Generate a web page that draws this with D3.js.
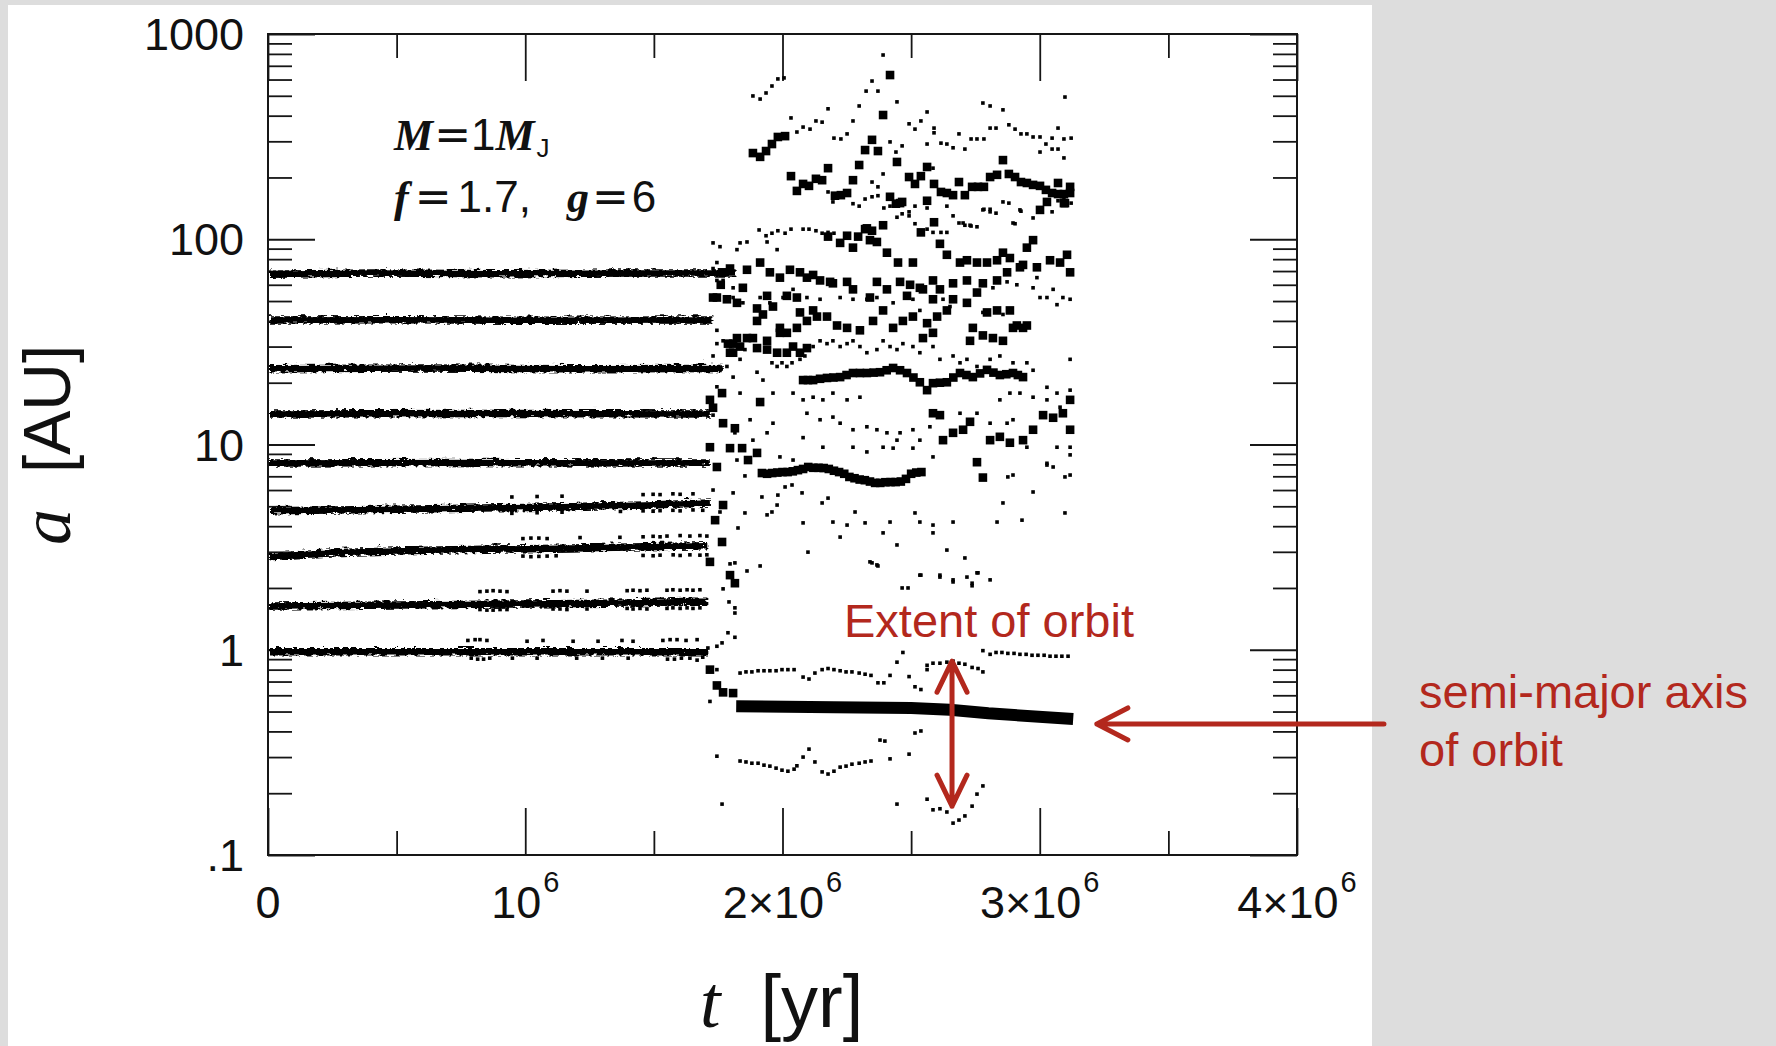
<!DOCTYPE html>
<html>
<head>
<meta charset="utf-8">
<script src="https://cdn.jsdelivr.net/npm/d3@7"></script>
<style>
html, body { margin: 0; padding: 0; background: #dddddd; }
svg { display: block; }
</style>
</head>
<body>
<div id="chart"></div>
<script>
// Semi-major axis a [AU] vs time t (t in units of 1e6 yr)

// planets before the instability, drawn as thick jittery lines
const track70 = [[0, 69], [0.4, 70], [0.9, 69.5], [1.4, 70], [1.81, 70]];
const track41 = [[0, 41.3], [0.5, 41.5], [1.0, 41.2], [1.72, 41.3]];
const track24 = [[0, 23.9], [0.6, 24.1], [1.2, 23.9], [1.76, 24.0]];
const track14 = [[0, 14.4], [0.8, 14.5], [1.71, 14.4]];
const track8 = [[0, 8.3], [0.8, 8.35], [1.71, 8.3]];
const track5 = [[0, 4.87], [0.5, 4.95], [1.0, 5.05], [1.5, 5.2], [1.71, 5.3]];
const track3 = [[0, 2.9], [0.1, 2.97], [0.3, 3.05], [0.6, 3.12], [1.0, 3.18], [1.4, 3.24], [1.7, 3.28]];
const track17 = [[0, 1.67], [0.5, 1.69], [1.0, 1.71], [1.4, 1.73], [1.64, 1.76], [1.7, 1.76]];
const track1 = [[0, 1.0], [0.8, 1.0], [1.7, 1.0]];
const preTracks = [track70, track41, track24, track14, track8, track5, track3, track17, track1];

// the surviving inner planet after the instability
const innerTrack = [[1.82, 0.53], [2.2, 0.525], [2.5, 0.52], [2.65, 0.51], [2.8, 0.49], [3.13, 0.46]];

// peri/apocentre dots before the instability
const preDots = [
  [0.777, 1.11], [0.805, 1.12], [0.824, 1.12], [0.851, 1.11], [1.007, 1.10], [1.069, 1.11], [1.186, 1.10], [1.283, 1.10],
  [1.376, 1.11], [1.419, 1.10], [1.535, 1.11], [1.563, 1.12], [1.590, 1.12], [1.625, 1.11], [1.668, 1.12],
  [0.790, 0.91], [0.815, 0.90], [0.838, 0.90], [0.862, 0.91], [0.95, 0.91], [1.046, 0.91], [1.20, 0.91], [1.30, 0.91],
  [1.40, 0.91], [1.553, 0.90], [1.580, 0.90], [1.607, 0.91], [1.640, 0.91], [1.690, 0.92],
  [0.824, 1.92], [0.851, 1.93], [0.875, 1.94], [0.902, 1.93], [0.929, 1.92], [1.108, 1.93], [1.135, 1.94], [1.162, 1.93],
  [1.240, 1.93], [1.396, 1.94], [1.419, 1.95], [1.446, 1.94], [1.473, 1.95], [1.551, 1.95], [1.574, 1.96], [1.602, 1.95],
  [1.629, 1.96], [1.652, 1.95], [1.679, 1.96],
  [0.824, 1.57], [0.851, 1.56], [0.875, 1.56], [0.902, 1.57], [0.929, 1.57], [1.108, 1.58], [1.135, 1.58], [1.162, 1.57],
  [1.240, 1.58], [1.396, 1.59], [1.419, 1.58], [1.446, 1.59], [1.473, 1.58], [1.551, 1.59], [1.574, 1.60], [1.602, 1.59],
  [1.629, 1.60], [1.652, 1.59], [1.679, 1.60],
  [0.991, 3.48], [1.022, 3.50], [1.053, 3.50], [1.085, 3.48], [1.213, 3.52], [1.368, 3.53], [1.458, 3.55], [1.497, 3.57],
  [1.524, 3.55], [1.551, 3.58], [1.602, 3.60], [1.640, 3.58], [1.679, 3.60], [1.706, 3.58],
  [0.991, 2.86], [1.022, 2.84], [1.053, 2.85], [1.085, 2.86], [1.12, 2.87], [1.458, 2.88], [1.497, 2.87], [1.524, 2.89],
  [1.575, 2.90], [1.602, 2.88], [1.640, 2.90], [1.679, 2.89], [1.706, 2.90],
  [0.948, 5.55], [1.046, 5.58], [1.143, 5.60], [1.458, 5.70], [1.497, 5.72], [1.524, 5.70], [1.574, 5.75], [1.602, 5.72], [1.652, 5.75],
  [0.948, 4.62], [1.046, 4.65], [1.143, 4.68], [1.37, 4.72], [1.458, 4.75], [1.497, 4.73], [1.524, 4.76], [1.574, 4.78],
  [1.602, 4.75], [1.652, 4.80], [1.69, 4.78]
];

// semi-major axes after the instability (large squares)
const sqHigh = [
  [1.885, 263], [1.913, 252], [1.936, 269], [1.959, 291], [1.982, 315], [2.010, 318], [2.418, 631], [2.391, 403],
  [2.348, 305], [2.321, 272], [2.371, 269], [2.445, 238], [2.298, 230],
  [2.177, 222], [2.033, 203], [2.056, 172], [2.080, 186], [2.103, 182], [2.130, 197], [2.154, 194], [2.274, 194],
  [2.204, 163], [2.227, 164], [2.251, 168], [2.418, 161], [2.441, 149], [2.465, 152], [2.492, 201], [2.515, 186],
  [2.538, 203], [2.562, 225], [2.562, 154], [2.589, 186], [2.616, 170], [2.639, 168], [2.663, 164], [2.686, 190],
  [2.709, 164], [2.737, 180], [2.760, 180], [2.783, 180], [2.807, 201], [2.834, 206], [2.857, 243], [2.880, 208],
  [2.904, 201], [2.927, 190], [2.950, 188], [2.974, 184], [3.001, 182], [3.024, 174], [3.048, 168], [3.071, 188],
  [3.071, 166], [3.094, 166], [3.118, 180], [3.118, 168], [3.094, 150], [3.001, 139], [2.457, 150], [3.028, 152], [3.098, 150]
];
const sqNear100 = [
  [2.589, 121], [2.538, 108], [2.391, 117], [2.321, 112], [2.348, 110], [2.328, 113], [2.251, 104], [2.294, 103],
  [2.177, 103], [2.224, 96], [2.340, 99], [2.367, 97], [2.974, 99], [2.612, 95], [2.950, 91], [2.274, 91], [2.406, 86],
  [2.639, 84], [2.857, 86], [2.795, 77], [2.834, 79], [2.884, 81], [3.040, 79], [3.106, 84], [2.690, 77], [2.717, 79],
  [2.756, 77], [2.449, 77], [2.507, 77], [2.935, 75], [2.989, 73], [3.079, 77], [1.913, 77],
  [1.862, 71], [1.951, 69], [1.990, 65], [2.029, 71], [2.068, 69], [2.119, 67], [2.185, 62], [2.251, 62], [2.274, 57],
  [2.367, 62], [2.406, 57], [2.457, 62], [2.496, 60], [2.534, 58], [2.585, 63], [2.612, 57], [2.663, 61], [2.717, 63],
  [2.779, 61], [2.834, 63], [2.873, 69], [2.923, 73], [3.118, 69], [2.196, 61], [2.146, 63], [2.095, 65],
  [1.765, 69], [1.796, 72]
];
const sqNear40 = [
  [1.730, 52], [1.745, 52], [1.784, 51], [1.823, 49], [1.846, 58], [1.901, 46], [1.940, 53], [1.963, 47], [2.017, 53],
  [2.056, 52], [2.068, 44], [2.119, 45], [2.173, 42], [2.212, 38], [2.251, 37], [2.301, 36], [2.352, 40], [2.391, 45],
  [2.430, 37], [2.468, 40], [2.507, 42], [2.562, 39], [2.601, 42], [2.639, 45], [2.585, 51], [2.546, 57], [2.484, 53],
  [2.340, 52], [1.823, 33], [1.862, 33], [1.885, 33], [1.940, 32], [1.990, 35], [2.017, 35], [2.056, 37], [2.095, 40],
  [2.134, 42], [1.940, 29], [1.979, 28], [2.017, 28], [2.041, 30], [1.808, 31], [1.796, 28], [2.663, 51], [2.717, 49],
  [2.756, 55], [2.795, 44], [2.834, 45], [2.884, 45], [2.911, 38], [2.950, 38], [2.740, 37], [2.779, 34], [2.818, 33],
  [2.857, 32], [2.896, 37], [2.935, 37], [2.729, 32], [2.585, 35], [2.546, 33], [1.76, 60],
  [1.901, 40], [1.924, 43], [1.990, 37], [1.788, 31], [1.808, 28], [1.835, 30], [1.901, 29.5], [2.068, 28], [2.095, 29.5]
];
const sqNear20 = [
  [2.080, 20.6], [2.099, 20.6], [2.119, 20.6], [2.146, 20.9], [2.173, 21.1], [2.198, 21.2], [2.224, 21.3], [2.249, 21.8],
  [2.274, 22.3], [2.301, 22.3], [2.328, 22.3], [2.354, 22.4], [2.379, 22.5], [2.405, 23.0], [2.430, 23.6], [2.457, 23.0],
  [2.484, 22.3], [2.509, 21.2], [2.534, 20.1], [2.562, 18.4], [2.585, 19.9], [2.612, 20.0], [2.639, 20.1], [2.664, 21.2],
  [2.690, 22.3], [2.715, 21.8], [2.740, 21.3], [2.768, 22.2], [2.795, 23.1], [2.820, 22.4], [2.845, 21.8], [2.870, 22.0],
  [2.896, 22.3], [2.915, 21.8], [2.935, 21.3]
];
const sqNear12 = [
  [2.585, 14.2], [2.612, 13.9], [2.624, 10.5], [2.663, 11.4], [2.702, 11.8], [2.729, 12.9], [2.807, 10.5], [2.845, 10.9],
  [2.884, 10.2], [2.935, 10.5], [2.974, 11.8], [3.013, 13.9], [3.052, 13.5], [3.090, 14.2], [3.118, 11.8], [3.118, 16.5]
];
const sqNear7 = [
  [1.92, 7.26], [1.94, 7.2], [1.96, 7.26], [1.98, 7.3], [2.00, 7.34], [2.02, 7.34], [2.04, 7.4], [2.06, 7.5], [2.08, 7.6],
  [2.10, 7.77], [2.12, 7.7], [2.14, 7.7], [2.16, 7.68], [2.18, 7.6], [2.20, 7.45], [2.22, 7.34], [2.24, 7.2], [2.26, 6.95],
  [2.28, 6.85], [2.30, 6.75], [2.32, 6.7], [2.34, 6.6], [2.36, 6.5], [2.38, 6.5], [2.40, 6.55], [2.42, 6.56], [2.44, 6.56],
  [2.46, 6.6], [2.48, 6.8], [2.50, 7.2], [2.52, 7.3], [2.54, 7.34]
];
const sqScatter = [
  [1.718, 16.5], [1.730, 15.1], [1.765, 17.8], [1.769, 12.7], [1.815, 12.0], [1.913, 16.1], [1.718, 9.7], [1.745, 7.77],
  [1.796, 9.6], [1.843, 9.6], [1.866, 8.4], [1.901, 9.1], [1.769, 5.07], [1.738, 4.28], [1.765, 3.35], [1.718, 2.68],
  [1.796, 2.31], [1.815, 2.11], [2.756, 8.2], [2.779, 6.9], [1.718, 0.80], [1.745, 0.67], [1.769, 0.62], [1.808, 0.615]
];

// peri/apocentre dots after the instability
const dotsHigh = [
  [1.885, 499], [1.913, 482], [1.936, 516], [1.959, 558], [1.982, 604], [2.006, 611], [2.391, 790], [2.348, 590],
  [2.325, 527], [2.371, 527], [2.445, 467], [2.298, 446], [2.274, 377], [2.177, 432], [2.130, 377], [2.154, 372],
  [2.107, 344], [2.080, 352], [2.056, 333], [2.033, 390], [2.200, 311], [2.227, 308], [2.251, 326],
  [2.492, 365], [2.515, 344], [2.538, 377], [2.562, 417], [2.589, 348], [2.589, 330], [2.562, 291], [2.616, 294],
  [2.639, 291], [2.663, 279], [2.686, 326], [2.709, 275], [2.733, 308], [2.756, 308], [2.783, 308], [2.779, 461],
  [2.807, 446], [2.857, 427], [2.830, 348], [2.807, 348], [2.880, 361], [2.904, 344], [2.927, 326], [2.950, 326],
  [2.974, 315], [3.001, 315], [3.024, 291], [3.048, 311], [3.071, 348], [3.098, 493], [3.122, 311], [3.094, 308],
  [3.001, 266], [3.048, 275], [3.071, 275], [3.094, 249], [2.418, 298], [2.465, 285], [2.441, 266],
  [3.122, 150], [3.094, 159], [3.071, 154], [2.857, 152], [2.880, 150], [2.783, 140], [2.807, 140], [2.830, 134],
  [2.927, 137], [2.974, 127], [3.048, 136], [2.904, 119], [2.585, 222], [2.391, 208], [2.348, 190], [2.371, 180],
  [2.196, 152], [2.177, 170], [2.274, 149], [2.298, 145], [2.321, 157], [2.348, 161], [2.371, 163], [2.394, 142],
  [2.418, 145], [2.445, 128], [2.465, 133], [2.492, 136], [2.492, 130], [2.515, 145], [2.562, 142], [2.639, 145],
  [2.663, 130], [2.686, 120], [2.709, 117], [2.733, 116], [2.756, 115], [2.515, 119], [2.562, 112], [2.616, 108],
  [2.639, 108], [2.585, 108], [1.909, 111], [1.936, 104], [1.959, 107], [1.982, 110], [2.010, 107], [2.033, 112],
  [2.080, 112], [2.103, 112], [2.130, 110], [2.154, 107], [2.177, 108], [2.200, 107], [2.779, 139], [2.807, 136],
  [2.896, 120], [2.702, 120], [2.729, 117], [2.923, 139]
];
const dotsMid = [
  [1.835, 96], [1.862, 97], [1.940, 97], [1.979, 89], [1.823, 89], [1.745, 77], [1.745, 63], [1.769, 63], [1.808, 58],
  [2.989, 65], [2.873, 62], [2.911, 60], [2.818, 58], [2.974, 58], [3.001, 52], [3.028, 52], [3.052, 57], [3.090, 52],
  [3.118, 51], [3.067, 48], [2.857, 43], [2.779, 44], [2.624, 51], [2.651, 47], [2.534, 45], [2.507, 51], [2.430, 49],
  [2.367, 52], [2.328, 51], [2.274, 51], [2.224, 52], [2.146, 51], [2.095, 52], [2.041, 57], [2.002, 52], [1.951, 49],
  [1.913, 52], [1.846, 49], [1.808, 52],
  [1.745, 31], [1.959, 25], [1.979, 24], [1.998, 25], [2.017, 24], [2.037, 25], [2.068, 26], [2.087, 27], [2.119, 30],
  [2.146, 32], [2.173, 31], [2.196, 32], [2.224, 30], [2.251, 31], [2.274, 32], [2.301, 30], [2.328, 28], [2.367, 29],
  [2.391, 32], [2.418, 30], [2.445, 29], [2.468, 31], [2.507, 30], [2.534, 28], [2.585, 30], [2.612, 26], [2.663, 27],
  [2.690, 25], [2.717, 26], [2.756, 24], [2.807, 26], [2.845, 27], [2.896, 25], [2.950, 25], [2.974, 23], [3.028, 19],
  [3.067, 17.8], [3.118, 18.4], [3.118, 26],
  [1.835, 17.8], [1.963, 17.8], [2.041, 17.8], [2.080, 16.5], [2.119, 17.0], [2.157, 16.5], [2.196, 17.8], [2.251, 16.5],
  [2.301, 17.0], [2.095, 14.2], [2.146, 13.2], [2.196, 13.6], [2.224, 12.7], [2.274, 11.8], [2.328, 12.2], [2.367, 11.8],
  [2.406, 11.4], [2.445, 10.5], [2.457, 11.4], [2.507, 11.8], [2.534, 10.5], [2.573, 12.2], [2.690, 14.2], [2.756, 14.2],
  [2.807, 12.7], [2.873, 12.7], [2.896, 13.2], [2.974, 17.0], [2.884, 17.8], [2.845, 16.5], [2.923, 17.8], [3.028, 16.5],
  [3.079, 15.2],
  [1.730, 96], [1.757, 92], [1.730, 72], [1.784, 69], [1.745, 36], [1.769, 32], [1.730, 27], [1.784, 24], [1.808, 21.3],
  [1.745, 19.1], [1.835, 26], [1.854, 29], [1.901, 22.5], [1.924, 20.6], [1.730, 13.9], [1.815, 11.4], [1.874, 13.2],
  [1.963, 12.7], [1.885, 10.5], [1.940, 11.4], [2.080, 10.8]
];
const dotsLow = [
  [2.274, 9.7], [2.328, 9.2], [2.391, 9.7], [2.430, 9.6], [2.507, 9.6], [2.585, 8.7], [2.157, 9.7], [1.990, 8.7],
  [2.041, 8.4], [2.950, 9.7], [3.028, 8.1], [3.067, 9.7], [3.118, 9.7],
  [1.823, 8.4], [1.854, 7.03], [1.808, 5.81], [1.730, 6.0], [1.757, 4.69], [1.827, 3.92], [1.854, 4.64], [1.920, 5.55],
  [1.940, 4.54], [1.959, 4.69], [1.979, 5.07], [1.982, 5.67], [2.010, 6.21], [2.037, 6.35], [2.076, 5.81], [2.080, 4.15],
  [2.099, 2.99], [2.154, 5.19], [2.177, 5.48], [2.196, 4.19], [2.224, 3.54], [2.251, 4.05], [2.282, 4.69], [2.321, 4.15],
  [2.340, 2.68], [2.367, 2.59], [2.391, 3.71], [2.418, 4.19], [2.445, 3.24], [2.515, 4.64], [2.534, 4.19], [2.585, 4.05],
  [2.585, 3.71], [2.612, 2.26], [2.639, 3.06], [2.663, 4.19], [2.709, 2.80], [2.760, 2.37], [2.807, 2.19], [2.834, 4.19],
  [2.857, 5.19], [2.931, 4.28], [2.974, 5.87], [3.028, 7.94], [3.052, 7.77], [3.098, 6.95], [3.118, 7.10], [3.098, 4.64],
  [3.118, 8.9], [2.896, 7.10], [2.876, 6.95], [2.717, 2.26], [2.663, 2.14], [2.534, 2.31], [2.465, 2.00], [2.488, 2.00],
  [2.348, 2.65], [2.371, 2.56], [1.796, 2.62], [1.815, 2.65], [1.862, 2.42], [1.913, 2.56], [2.538, 2.31], [2.612, 2.31],
  [2.663, 2.19], [2.737, 2.11], [2.737, 2.05], [2.756, 2.37],
  [1.769, 1.98], [1.792, 1.71], [1.815, 1.60], [1.815, 1.51], [1.788, 1.21], [1.815, 1.15], [1.765, 1.08], [1.745, 1.04], [1.710, 1.02]
];
const dotsApo = [
  [1.668, 0.89], [1.745, 0.80], [1.835, 0.77], [1.858, 0.78], [1.881, 0.78], [1.905, 0.79], [1.928, 0.79], [1.951, 0.79],
  [1.975, 0.79], [1.998, 0.80], [2.021, 0.80], [2.045, 0.80], [2.080, 0.736], [2.103, 0.72], [2.126, 0.77], [2.154, 0.80],
  [2.177, 0.81], [2.200, 0.80], [2.224, 0.79], [2.247, 0.78], [2.270, 0.78], [2.298, 0.77], [2.321, 0.76], [2.344, 0.75],
  [2.371, 0.69], [2.394, 0.69], [2.418, 0.75], [2.468, 0.97], [2.445, 0.87], [2.492, 0.74], [2.515, 0.66], [2.538, 0.64],
  [2.562, 0.80], [2.562, 0.84], [2.585, 0.86], [2.612, 0.86], [2.639, 0.87], [2.663, 0.88], [2.686, 0.86], [2.709, 0.85],
  [2.737, 0.82], [2.760, 0.81], [2.779, 0.78], [2.779, 0.99], [2.807, 0.95], [2.830, 0.97], [2.853, 0.97], [2.876, 0.96],
  [2.900, 0.96], [2.923, 0.95], [2.947, 0.95], [2.970, 0.94], [2.993, 0.94], [3.017, 0.94], [3.040, 0.93], [3.063, 0.93],
  [3.086, 0.93], [3.110, 0.93], [1.718, 0.56]
];
const dotsPeri = [
  [1.765, 0.177], [1.745, 0.303], [1.835, 0.287], [1.858, 0.284], [1.881, 0.280], [1.905, 0.280], [1.928, 0.274],
  [1.951, 0.271], [1.975, 0.265], [1.998, 0.259], [2.021, 0.256], [2.045, 0.262], [2.056, 0.272], [2.080, 0.300],
  [2.103, 0.328], [2.126, 0.284], [2.154, 0.254], [2.177, 0.248], [2.200, 0.256], [2.224, 0.268], [2.247, 0.271],
  [2.270, 0.277], [2.298, 0.280], [2.321, 0.284], [2.344, 0.287], [2.418, 0.294], [2.492, 0.310], [2.515, 0.393],
  [2.538, 0.402], [2.379, 0.363], [2.398, 0.359], [2.445, 0.177], [2.562, 0.187], [2.585, 0.166], [2.612, 0.168],
  [2.639, 0.162], [2.663, 0.143], [2.686, 0.148], [2.709, 0.155], [2.737, 0.173], [2.756, 0.198], [2.779, 0.217]
];

// axes
const xMajor = [0, 1, 2, 3, 4];
const xMinor = [0.5, 1.5, 2.5, 3.5];
const xTickBase = ["0", "10", "2×10", "3×10", "4×10"];
const xTickExp = ["", "6", "6", "6", "6"];
const yMajor = [0.1, 1, 10, 100, 1000];
const yTickLabels = [".1", "1", "10", "100", "1000"];

const width = 1776, height = 1046;
const red = "#b3281d";
const ink = "#161616";
const sans = "'Liberation Sans', Arial, Helvetica, sans-serif";
const serif = "'Liberation Serif', 'Times New Roman', serif";

const svg = d3.select("#chart").append("svg")
  .attr("width", width)
  .attr("height", height)
  .attr("viewBox", [0, 0, width, height]);

svg.append("rect").attr("width", width).attr("height", height).attr("fill", "#dddddd");
svg.append("rect").attr("x", 8).attr("y", 5).attr("width", 1364).attr("height", height - 5).attr("fill", "#ffffff");

// rough edge for the dense tracks
const defs = svg.append("defs");
const rough = defs.append("filter").attr("id", "rough")
  .attr("filterUnits", "userSpaceOnUse")
  .attr("x", 0).attr("y", 0).attr("width", width).attr("height", height);
rough.append("feTurbulence").attr("type", "turbulence").attr("baseFrequency", "0.12 0.35")
  .attr("numOctaves", 1).attr("seed", 7).attr("result", "noise");
rough.append("feDisplacementMap").attr("in", "SourceGraphic").attr("in2", "noise")
  .attr("scale", 6).attr("xChannelSelector", "R").attr("yChannelSelector", "G");

const margin = { top: 34, right: 479, bottom: 191, left: 268 };
const x = d3.scaleLinear().domain([0, 4]).range([margin.left, width - margin.right]);
const y = d3.scaleLog().domain([0.1, 1000]).range([height - margin.bottom, margin.top]);
const x0 = x.range()[0], x1 = x.range()[1], y0 = y.range()[1], y1 = y.range()[0];

const majorLen = 47, minorLen = 24;
const yMinor = [];
[0.1, 1, 10, 100].forEach(d => { for (let k = 2; k <= 9; k++) yMinor.push(d * k); });

function styleAxis(g) {
  g.select(".domain").remove();
  g.selectAll(".tick line").attr("stroke", ink).attr("stroke-width", 1.8);
  g.selectAll(".tick text").remove();
}

// ticks on all four sides, pointing inward
svg.append("g").attr("transform", `translate(0,${y1})`)
  .call(d3.axisBottom(x).tickValues(xMajor).tickSizeInner(-majorLen).tickSizeOuter(0)).call(styleAxis);
svg.append("g").attr("transform", `translate(0,${y1})`)
  .call(d3.axisBottom(x).tickValues(xMinor).tickSizeInner(-minorLen).tickSizeOuter(0)).call(styleAxis);
svg.append("g").attr("transform", `translate(0,${y0})`)
  .call(d3.axisTop(x).tickValues(xMajor).tickSizeInner(-majorLen).tickSizeOuter(0)).call(styleAxis);
svg.append("g").attr("transform", `translate(0,${y0})`)
  .call(d3.axisTop(x).tickValues(xMinor).tickSizeInner(-minorLen).tickSizeOuter(0)).call(styleAxis);
svg.append("g").attr("transform", `translate(${x0},0)`)
  .call(d3.axisLeft(y).tickValues(yMajor).tickSizeInner(-majorLen).tickSizeOuter(0)).call(styleAxis);
svg.append("g").attr("transform", `translate(${x0},0)`)
  .call(d3.axisLeft(y).tickValues(yMinor).tickSizeInner(-minorLen).tickSizeOuter(0)).call(styleAxis);
svg.append("g").attr("transform", `translate(${x1},0)`)
  .call(d3.axisRight(y).tickValues(yMajor).tickSizeInner(-majorLen).tickSizeOuter(0)).call(styleAxis);
svg.append("g").attr("transform", `translate(${x1},0)`)
  .call(d3.axisRight(y).tickValues(yMinor).tickSizeInner(-minorLen).tickSizeOuter(0)).call(styleAxis);

// data
const plot = svg.append("g");
const line = d3.line().x(d => x(d[0])).y(d => y(d[1]));

plot.append("g").attr("filter", "url(#rough)")
  .selectAll("path")
  .data(preTracks)
  .join("path")
  .attr("d", line)
  .attr("fill", "none")
  .attr("stroke", "#000")
  .attr("stroke-width", 7.5);

plot.append("path")
  .attr("d", line(innerTrack))
  .attr("fill", "none")
  .attr("stroke", "#000")
  .attr("stroke-width", 12);

const allDots = [].concat(preDots, dotsHigh, dotsMid, dotsLow, dotsApo, dotsPeri);
plot.append("g").selectAll("rect")
  .data(allDots)
  .join("rect")
  .attr("x", d => x(d[0]) - 1.8)
  .attr("y", d => y(d[1]) - 1.8)
  .attr("width", 3.6)
  .attr("height", 3.6)
  .attr("fill", "#000");

const allSquares = [].concat(sqHigh, sqNear100, sqNear40, sqNear20, sqNear12, sqNear7, sqScatter);
plot.append("g").selectAll("rect")
  .data(allSquares)
  .join("rect")
  .attr("x", d => x(d[0]) - 4.3)
  .attr("y", d => y(d[1]) - 4.3)
  .attr("width", 8.6)
  .attr("height", 8.6)
  .attr("fill", "#000");

// frame
svg.append("rect")
  .attr("x", x0).attr("y", y0)
  .attr("width", x1 - x0).attr("height", y1 - y0)
  .attr("fill", "none").attr("stroke", ink).attr("stroke-width", 2);

// tick labels
const xl = svg.append("g").attr("font-family", sans).attr("fill", "#111");
xMajor.forEach((v, i) => {
  const t = xl.append("text")
    .attr("x", x(v)).attr("y", 918)
    .attr("text-anchor", "middle")
    .attr("font-size", 45);
  t.append("tspan").text(xTickBase[i]);
  if (xTickExp[i]) t.append("tspan").attr("dy", -26).attr("dx", 2).attr("font-size", 29).text(xTickExp[i]);
});
svg.append("g").attr("font-family", sans).attr("fill", "#111")
  .selectAll("text")
  .data(yMajor)
  .join("text")
  .attr("x", 244)
  .attr("y", d => y(d))
  .attr("dy", "0.36em")
  .attr("text-anchor", "end")
  .attr("font-size", 45)
  .text((d, i) => yTickLabels[i]);

// axis titles
const xt = svg.append("text").attr("x", 700).attr("y", 1027).attr("font-size", 74).attr("fill", "#111");
xt.append("tspan").attr("font-family", serif).attr("font-style", "italic").text("t");
xt.append("tspan").attr("font-family", sans).attr("dx", 40).text("[yr]");

const yt = svg.append("text").attr("transform", "translate(70,545) rotate(-90)").attr("font-size", 66).attr("fill", "#111");
yt.append("tspan").attr("font-family", serif).attr("font-style", "italic").attr("font-size", 72).text("a");
yt.append("tspan").attr("font-family", sans).attr("dx", 36).text("[AU]");

// parameters
const eqFont = "'DejaVu Sans', sans-serif";
const p1 = svg.append("text").attr("x", 394).attr("y", 150).attr("font-size", 44).attr("fill", "#111");
p1.append("tspan").attr("font-family", serif).attr("font-style", "italic").attr("font-weight", "bold").text("M");
p1.append("tspan").attr("font-family", eqFont).attr("dx", 1).text("=");
p1.append("tspan").attr("font-family", sans).text("1");
p1.append("tspan").attr("font-family", serif).attr("font-style", "italic").attr("font-weight", "bold").text("M");
p1.append("tspan").attr("font-family", sans).attr("font-size", 26).attr("dy", 7).attr("dx", 2).text("J");

const p2 = svg.append("text").attr("x", 394).attr("y", 212).attr("font-size", 44).attr("fill", "#111");
p2.append("tspan").attr("font-family", serif).attr("font-style", "italic").attr("font-weight", "bold").text("f");
p2.append("tspan").attr("font-family", eqFont).attr("dx", 6).text("=");
p2.append("tspan").attr("font-family", sans).attr("dx", 6).text("1.7,");
p2.append("tspan").attr("font-family", serif).attr("font-style", "italic").attr("font-weight", "bold").attr("dx", 36).text("g");
p2.append("tspan").attr("font-family", eqFont).attr("dx", 3).text("=");
p2.append("tspan").attr("font-family", sans).attr("dx", 3).text("6");

// red annotations
const ann = svg.append("g");
ann.append("text").attr("x", 844).attr("y", 637).attr("font-family", sans).attr("font-size", 47)
  .attr("fill", red).text("Extent of orbit");
ann.append("text").attr("x", 1419).attr("y", 708).attr("font-family", sans).attr("font-size", 47)
  .attr("fill", red).text("semi-major axis");
ann.append("text").attr("x", 1419).attr("y", 766).attr("font-family", sans).attr("font-size", 47)
  .attr("fill", red).text("of orbit");

const arrowStyle = g => g.attr("fill", "none").attr("stroke", red).attr("stroke-width", 5)
  .attr("stroke-linecap", "round").attr("stroke-linejoin", "round");

// vertical double arrow: apocentre to pericentre at t = 2.66e6 yr
const ax = x(2.659), aTop = y(0.88), aBot = y(0.173);
ann.append("path").call(arrowStyle)
  .attr("d", `M${ax},${aTop}V${aBot}M${ax - 15},${aTop + 31}L${ax},${aTop}L${ax + 15},${aTop + 31}M${ax - 15},${aBot - 31}L${ax},${aBot}L${ax + 15},${aBot - 31}`);

// horizontal arrow pointing at the semi-major axis line
const hy = y(0.435), hTip = x(3.222), hTail = x(4.338);
ann.append("path").call(arrowStyle)
  .attr("d", `M${hTail},${hy}H${hTip}M${hTip + 31},${hy - 16}L${hTip},${hy}L${hTip + 31},${hy + 16}`);
</script>
</body>
</html>
